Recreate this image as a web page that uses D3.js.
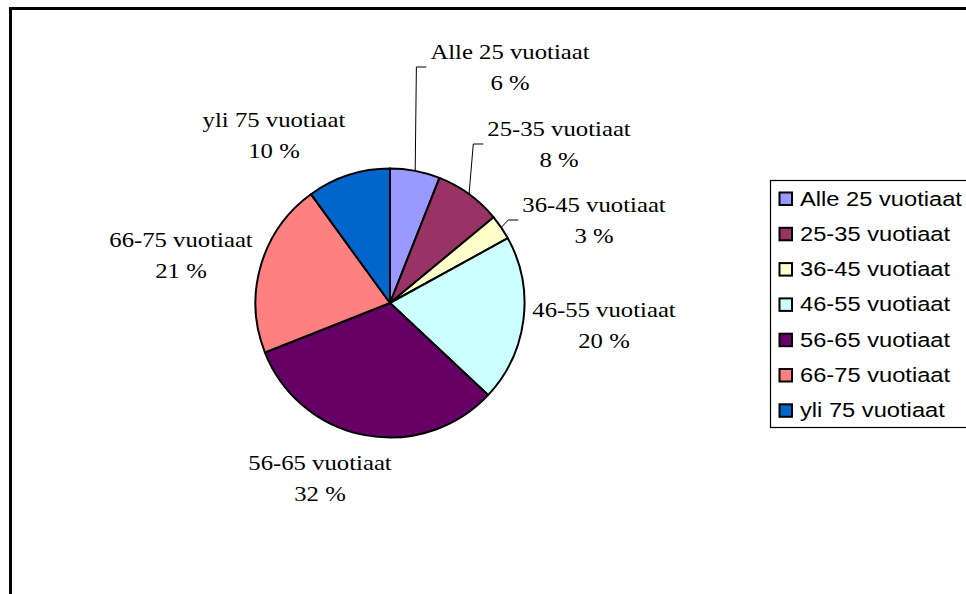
<!DOCTYPE html>
<html>
<head>
<meta charset="utf-8">
<script src="https://cdn.jsdelivr.net/npm/d3@7"></script>
<style>
  body { margin: 0; background: #fff; }
  svg { display: block; }
</style>
</head>
<body>
<div id="chart"></div>
<script>
// age groups and their share (%)
let categories = ["Alle 25 vuotiaat", "25-35 vuotiaat", "36-45 vuotiaat", "46-55 vuotiaat", "56-65 vuotiaat", "66-75 vuotiaat", "yli 75 vuotiaat"];
let values = [6, 8, 3, 20, 32, 21, 10];
let colors = ["#9999FF", "#993366", "#FFFFCC", "#CCFFFF", "#660066", "#FF8080", "#0066CC"];

// where Excel put the data labels (centre x, first baseline) and whether a leader line is drawn
let labelAnchors = [
  {x: 510, y: 59, leader: true},
  {x: 559, y: 136, leader: true},
  {x: 594, y: 212, leader: true},
  {x: 604, y: 317, leader: false},
  {x: 320, y: 470, leader: false},
  {x: 181, y: 247, leader: false},
  {x: 274, y: 127, leader: false}
];

let width = 966, height = 594;
let cx = 390, cy = 303, radius = 134.5;
let labelScale = 1.15, legendScale = 1.215;

let svg = d3.select("#chart")
  .append("svg")
  .attr("width", width)
  .attr("height", height);

// outer frame (runs off the page on the right and bottom)
svg.append("rect")
  .attr("x", 10.5).attr("y", 8.5)
  .attr("width", 1000).attr("height", 700)
  .attr("fill", "none")
  .attr("stroke", "#000")
  .attr("stroke-width", 3);

let data = categories.map((c, i) => ({name: c, value: values[i], color: colors[i]}));

let pie = d3.pie()
  .value(d => d.value)
  .sort(null);

let arc = d3.arc()
  .innerRadius(0)
  .outerRadius(radius);

let arcs = pie(data);

let g = svg.append("g")
  .attr("transform", "translate(" + cx + "," + cy + ")");

g.selectAll("path")
  .data(arcs)
  .enter()
  .append("path")
  .attr("d", arc)
  .attr("fill", d => d.data.color)
  .attr("stroke", "#000")
  .attr("stroke-width", 2)
  .attr("stroke-linejoin", "round");

// data labels
let lineGap = 31.5;
let labels = svg.selectAll(".lbl")
  .data(arcs)
  .enter()
  .append("g")
  .attr("class", "lbl");

labels.each(function(d, i) {
  let a = labelAnchors[i];
  let sel = d3.select(this);
  let t = sel.append("g")
    .attr("transform", "translate(" + a.x + "," + a.y + ") scale(" + labelScale + ",1)")
    .attr("font-family", "'Liberation Serif', 'Times New Roman', serif")
    .attr("font-size", 21.5)
    .attr("text-anchor", "middle")
    .attr("fill", "#000");
  let t1 = t.append("text").attr("x", 0).attr("y", 0).text(d.data.name);
  t.append("text").attr("x", 0).attr("y", lineGap).text(d.data.value + " %");

  if (a.leader) {
    let w = t1.node().getComputedTextLength() * labelScale;
    let left = a.x - w / 2;
    let mid = (d.startAngle + d.endAngle) / 2;
    let px = cx + radius * Math.sin(mid);
    let py = cy - radius * Math.cos(mid);
    let ey = a.y + 8;
    sel.append("path")
      .attr("d", d3.line()([[px, py], [left - 14, ey], [left - 4, ey]]))
      .attr("fill", "none")
      .attr("stroke", "#000")
      .attr("stroke-width", 1);
  }
});

// legend
let legendX = 770.5, legendY = 180.5, rowGap = 35.3;
svg.append("rect")
  .attr("x", legendX).attr("y", legendY)
  .attr("width", 260).attr("height", 247)
  .attr("fill", "#fff")
  .attr("stroke", "#000")
  .attr("stroke-width", 1.2);

let keys = svg.selectAll(".key")
  .data(data)
  .enter()
  .append("g")
  .attr("class", "key")
  .attr("transform", (d, i) => "translate(0," + (205.5 + i * rowGap) + ")");

keys.append("rect")
  .attr("x", 779.5).attr("y", -13)
  .attr("width", 12.5).attr("height", 12.5)
  .attr("fill", d => d.color)
  .attr("stroke", "#000")
  .attr("stroke-width", 2);

keys.append("text")
  .attr("transform", "translate(800,0) scale(" + legendScale + ",1)")
  .attr("font-family", "'Liberation Sans', Arial, sans-serif")
  .attr("font-size", 19.5)
  .attr("fill", "#000")
  .text(d => d.name);
</script>
</body>
</html>
